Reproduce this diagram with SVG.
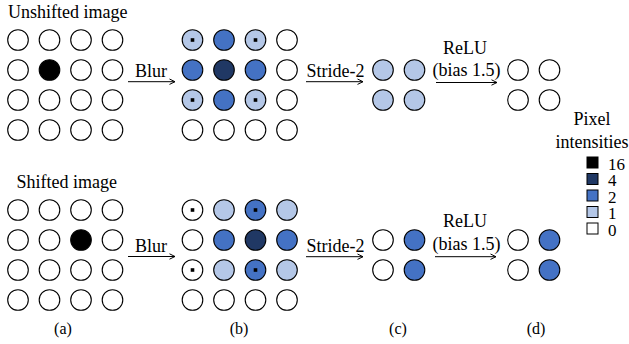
<svg xmlns="http://www.w3.org/2000/svg" width="629" height="344" viewBox="0 0 629 344">
<rect width="629" height="344" fill="#fff"/>
<text x="8" y="18" font-family="Liberation Serif" font-size="18">Unshifted image</text>
<text x="16.5" y="187.5" font-family="Liberation Serif" font-size="18">Shifted image</text>

<g id="top-a" stroke="#000" stroke-width="1.1" fill="#fff">
<circle cx="18" cy="40" r="10.3"/><circle cx="49.5" cy="40" r="10.3"/><circle cx="81" cy="40" r="10.3"/><circle cx="112.5" cy="40" r="10.3"/>
<circle cx="18" cy="70" r="10.3"/><circle fill="#000" cx="49.5" cy="70" r="10.3"/><circle cx="81" cy="70" r="10.3"/><circle cx="112.5" cy="70" r="10.3"/>
<circle cx="18" cy="100" r="10.3"/><circle cx="49.5" cy="100" r="10.3"/><circle cx="81" cy="100" r="10.3"/><circle cx="112.5" cy="100" r="10.3"/>
<circle cx="18" cy="130" r="10.3"/><circle cx="49.5" cy="130" r="10.3"/><circle cx="81" cy="130" r="10.3"/><circle cx="112.5" cy="130" r="10.3"/>
</g>

<g id="top-b" stroke="#000" stroke-width="1.1" fill="#fff">
<circle fill="#b4c7e7" cx="192.5" cy="40" r="10.3"/><circle fill="#4472c4" cx="224" cy="40" r="10.3"/><circle fill="#b4c7e7" cx="255.5" cy="40" r="10.3"/><circle cx="287" cy="40" r="10.3"/>
<circle fill="#4472c4" cx="192.5" cy="70" r="10.3"/><circle fill="#203864" cx="224" cy="70" r="10.3"/><circle fill="#4472c4" cx="255.5" cy="70" r="10.3"/><circle cx="287" cy="70" r="10.3"/>
<circle fill="#b4c7e7" cx="192.5" cy="100" r="10.3"/><circle fill="#4472c4" cx="224" cy="100" r="10.3"/><circle fill="#b4c7e7" cx="255.5" cy="100" r="10.3"/><circle cx="287" cy="100" r="10.3"/>
<circle cx="192.5" cy="130" r="10.3"/><circle cx="224" cy="130" r="10.3"/><circle cx="255.5" cy="130" r="10.3"/><circle cx="287" cy="130" r="10.3"/>
<g stroke="none" fill="#000">
<rect x="190.7" y="38.2" width="3.6" height="3.6"/><rect x="253.7" y="38.2" width="3.6" height="3.6"/>
<rect x="190.7" y="98.2" width="3.6" height="3.6"/><rect x="253.7" y="98.2" width="3.6" height="3.6"/>
</g>
</g>

<g id="top-c" stroke="#000" stroke-width="1.1" fill="#b4c7e7">
<circle cx="383" cy="70" r="10.3"/><circle cx="414.5" cy="70" r="10.3"/>
<circle cx="383" cy="100" r="10.3"/><circle cx="414.5" cy="100" r="10.3"/>
</g>

<g id="top-d" stroke="#000" stroke-width="1.1" fill="#fff">
<circle cx="518" cy="70" r="10.3"/><circle cx="549.5" cy="70" r="10.3"/>
<circle cx="518" cy="100" r="10.3"/><circle cx="549.5" cy="100" r="10.3"/>
</g>

<g id="bot-a" stroke="#000" stroke-width="1.1" fill="#fff">
<circle cx="18" cy="210" r="10.3"/><circle cx="49.5" cy="210" r="10.3"/><circle cx="81" cy="210" r="10.3"/><circle cx="112.5" cy="210" r="10.3"/>
<circle cx="18" cy="240" r="10.3"/><circle cx="49.5" cy="240" r="10.3"/><circle fill="#000" cx="81" cy="240" r="10.3"/><circle cx="112.5" cy="240" r="10.3"/>
<circle cx="18" cy="270" r="10.3"/><circle cx="49.5" cy="270" r="10.3"/><circle cx="81" cy="270" r="10.3"/><circle cx="112.5" cy="270" r="10.3"/>
<circle cx="18" cy="300" r="10.3"/><circle cx="49.5" cy="300" r="10.3"/><circle cx="81" cy="300" r="10.3"/><circle cx="112.5" cy="300" r="10.3"/>
</g>

<g id="bot-b" stroke="#000" stroke-width="1.1" fill="#fff">
<circle cx="192.5" cy="210" r="10.3"/><circle fill="#b4c7e7" cx="224" cy="210" r="10.3"/><circle fill="#4472c4" cx="255.5" cy="210" r="10.3"/><circle fill="#b4c7e7" cx="287" cy="210" r="10.3"/>
<circle cx="192.5" cy="240" r="10.3"/><circle fill="#4472c4" cx="224" cy="240" r="10.3"/><circle fill="#203864" cx="255.5" cy="240" r="10.3"/><circle fill="#4472c4" cx="287" cy="240" r="10.3"/>
<circle cx="192.5" cy="270" r="10.3"/><circle fill="#b4c7e7" cx="224" cy="270" r="10.3"/><circle fill="#4472c4" cx="255.5" cy="270" r="10.3"/><circle fill="#b4c7e7" cx="287" cy="270" r="10.3"/>
<circle cx="192.5" cy="300" r="10.3"/><circle cx="224" cy="300" r="10.3"/><circle cx="255.5" cy="300" r="10.3"/><circle cx="287" cy="300" r="10.3"/>
<g stroke="none" fill="#000">
<rect x="190.7" y="208.2" width="3.6" height="3.6"/><rect x="253.7" y="208.2" width="3.6" height="3.6"/>
<rect x="190.7" y="268.2" width="3.6" height="3.6"/><rect x="253.7" y="268.2" width="3.6" height="3.6"/>
</g>
</g>

<g id="bot-c" stroke="#000" stroke-width="1.1" fill="#fff">
<circle cx="383" cy="240" r="10.3"/><circle fill="#4472c4" cx="414.5" cy="240" r="10.3"/>
<circle cx="383" cy="270" r="10.3"/><circle fill="#4472c4" cx="414.5" cy="270" r="10.3"/>
</g>

<g id="bot-d" stroke="#000" stroke-width="1.1" fill="#fff">
<circle cx="518" cy="240" r="10.3"/><circle fill="#4472c4" cx="549.5" cy="240" r="10.3"/>
<circle cx="518" cy="270" r="10.3"/><circle fill="#4472c4" cx="549.5" cy="270" r="10.3"/>
</g>

<g id="connectors" stroke="#000" stroke-width="1" fill="none">
<path d="M128,81.7 H175 M169.5,79 L175,81.7 L169.5,84.4"/>
<path d="M306,81.7 H363 M357.5,79 L363,81.7 L357.5,84.4"/>
<path d="M436,82.5 H497 M491.5,79.8 L497,82.5 L491.5,85.2"/>
<path d="M128,256.5 H175 M169.5,253.8 L175,256.5 L169.5,259.2"/>
<path d="M306,256.7 H363 M357.5,254 L363,256.7 L357.5,259.4"/>
<path d="M435,256.7 H496 M490.5,254 L496,256.7 L490.5,259.4"/>
</g>

<text x="135" y="77" font-family="Liberation Serif" font-size="18">Blur</text>
<text x="306.5" y="77.3" font-family="Liberation Serif" font-size="18">Stride-2</text>
<text x="465" y="53.5" font-family="Liberation Serif" font-size="18" text-anchor="middle">ReLU</text>
<text x="466.5" y="76" font-family="Liberation Serif" font-size="18" text-anchor="middle">(bias 1.5)</text>
<text x="135" y="251.5" font-family="Liberation Serif" font-size="18">Blur</text>
<text x="306.5" y="251.7" font-family="Liberation Serif" font-size="18">Stride-2</text>
<text x="465" y="226.7" font-family="Liberation Serif" font-size="18" text-anchor="middle">ReLU</text>
<text x="466.5" y="250" font-family="Liberation Serif" font-size="18" text-anchor="middle">(bias 1.5)</text>

<g id="legend" stroke="#000" stroke-width="1">
<rect x="587" y="157" width="11" height="11" fill="#000"/>
<rect x="587" y="173.5" width="11" height="11" fill="#203864"/>
<rect x="587" y="190" width="11" height="11" fill="#4472c4"/>
<rect x="587" y="206.5" width="11" height="11" fill="#b4c7e7"/>
<rect x="587" y="223" width="11" height="11" fill="#fff"/>
</g>
<text x="592" y="125" font-family="Liberation Serif" font-size="18" text-anchor="middle">Pixel</text>
<text x="592" y="147.5" font-family="Liberation Serif" font-size="18" text-anchor="middle">intensities</text>
<text x="608" y="169.5" font-family="Liberation Serif" font-size="17">16</text>
<text x="608" y="186" font-family="Liberation Serif" font-size="17">4</text>
<text x="608" y="202.5" font-family="Liberation Serif" font-size="17">2</text>
<text x="608" y="219" font-family="Liberation Serif" font-size="17">1</text>
<text x="608" y="235.5" font-family="Liberation Serif" font-size="17">0</text>

<text x="63" y="334" font-family="Liberation Serif" font-size="16" text-anchor="middle">(a)</text>
<text x="239" y="334" font-family="Liberation Serif" font-size="16" text-anchor="middle">(b)</text>
<text x="398" y="334" font-family="Liberation Serif" font-size="16" text-anchor="middle">(c)</text>
<text x="536" y="334" font-family="Liberation Serif" font-size="16" text-anchor="middle">(d)</text>
</svg>
